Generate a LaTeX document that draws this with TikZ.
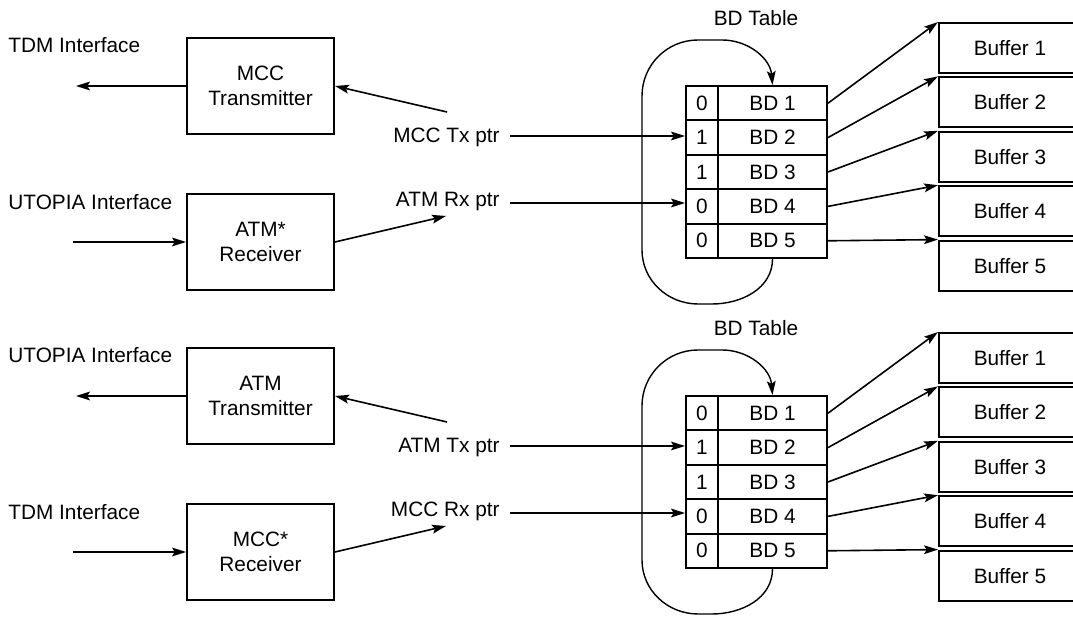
\documentclass[tikz,border=0pt]{standalone}
\usepackage{fontspec}
\setmainfont{Liberation Sans}
\usetikzlibrary{arrows.meta,positioning}
\tikzset{
  bd/box/.style={
    draw,
    line width=1pt,
    minimum width=73.5pt,
    minimum height=48pt,
    align=center,
    inner sep=0pt
  },
  bd/flag/.style={draw, line width=1pt, minimum width=16pt, minimum height=17.2pt, inner sep=0pt},
  bd/cell/.style={draw, line width=1pt, minimum width=54.5pt, minimum height=17.2pt, inner sep=0pt},
  bd/buffer/.style={draw, line width=1pt, minimum width=71pt, minimum height=25pt, inner sep=0pt},
  bd/label/.style={inner sep=0pt},
  bd/arrow/.style={-{Stealth[length=7pt,width=4.4pt,inset=1.4pt]}, line width=0.8pt},
  bd/loop/.style={-{Stealth[length=7pt,width=4.4pt,inset=1.4pt]}, line width=0.7pt}
}
\begin{document}
\begin{tikzpicture}[x=0.5pt,y=-0.5pt,font=\fontsize{10.4}{12.2}\selectfont]
  \useasboundingbox (0,0) rectangle (1073,641);
  \foreach \s/\oy/\inA/\nameA/\ptrA/\inB/\nameB/\ptrB in {
    t/0/TDM Interface/MCC/MCC Tx ptr/UTOPIA Interface/ATM*/ATM Rx ptr,
    b/310/UTOPIA Interface/ATM/ATM Tx ptr/TDM Interface/MCC*/MCC Rx ptr}
  {
  \begin{scope}[shift={(0,\oy)}]
    \node[bd/box] (tx\s) at (260.5,86) {\nameA\\Transmitter};
    \node[bd/box] (rx\s) at (260.5,242) {\nameB\\Receiver};
    \node[bd/label,anchor=west] (inA\s) at (8,45.5) {\inA};
    \node[bd/label,anchor=west] (inB\s) at (8,202.5) {\inB};
    \coordinate (txout\s) at (76,86);
    \coordinate (rxin\s) at (73,242);
    \draw[bd/arrow] (tx\s.west) -- (txout\s);
    \draw[bd/arrow] (rxin\s) -- (rx\s.west);

    \node[bd/label,anchor=base east] (ptrA\s) at (500,142.5) {\ptrA};
    \node[bd/label,anchor=base east] (ptrB\s) at (500,206.5) {\ptrB};
    \coordinate (ptrAtop\s) at (447,112);
    \coordinate (ptrBtop\s) at (446,216);
    \draw[bd/arrow] (ptrAtop\s) -- (tx\s.east);
    \draw[bd/arrow] (rx\s.east) -- (ptrBtop\s);

    \node[bd/label] (title\s) at (756,18) {BD Table};
    \foreach \i/\f in {1/0,2/1,3/1,4/0,5/0}{
      \node[bd/flag] (f\i\s) at (702,{68.8+34.4*\i}) {\f};
      \node[bd/cell] (bd\i\s) at (772.5,{68.8+34.4*\i}) {BD \i};
      \node[bd/buffer] (buf\i\s) at (1010,{-6.4+54.4*\i}) {Buffer \i};
      \draw[bd/arrow] (bd\i\s.east) -- (buf\i\s.north west);
    }
    \coordinate (ptrAin\s) at (510,136);
    \coordinate (ptrBin\s) at (510,203);
    \draw[bd/arrow] (ptrAin\s) -- (ptrAin\s -| f2\s.west);
    \draw[bd/arrow] (ptrBin\s) -- (ptrBin\s -| f4\s.west);
    \draw[bd/loop] (bd5\s.south) to[out=-90,in=0] (712,304) -- (698,304)
      to[out=180,in=-90] (642,250) -- (642,96) to[out=90,in=180] (698,40)
      -- (722,40) to[out=0,in=95] (bd1\s.north);
  \end{scope}
  }
\end{tikzpicture}
\end{document}
